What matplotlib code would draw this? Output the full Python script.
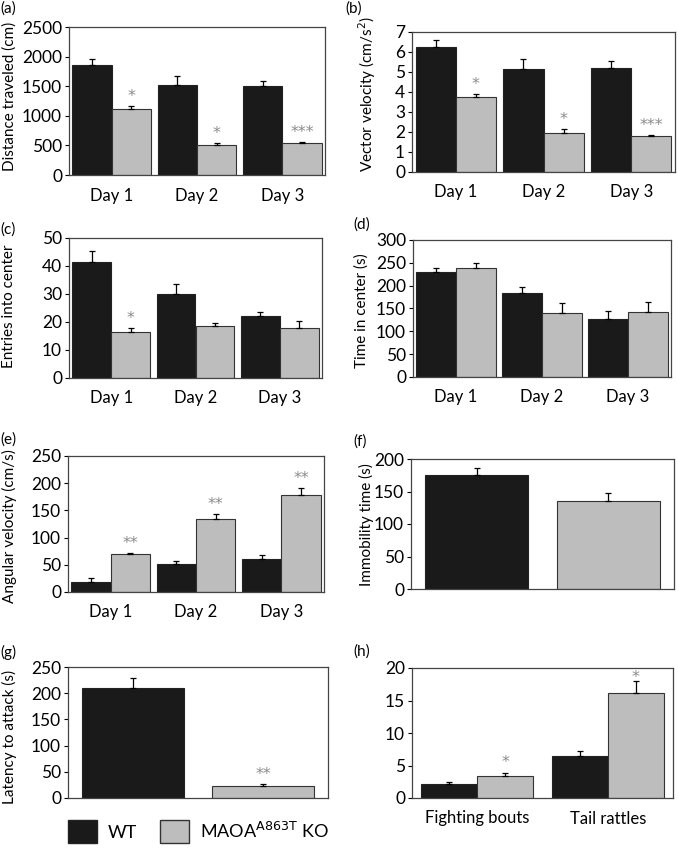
"""Eight-panel behaviour figure: WT vs MAOA A863T KO bar charts with SEM."""

import matplotlib

matplotlib.use("Agg")
import matplotlib.pyplot as plt  # noqa: E402
import numpy as np  # noqa: E402
from matplotlib.patches import Patch  # noqa: E402

W, H = 678, 851
plt.rcParams["font.family"] = ["Lato", "DejaVu Sans"]

DARK = "#1a1a1a"
GREY = "#bdbdbd"
STAR = "#8a8a8a"

# ---- data ----
days = ["Day 1", "Day 2", "Day 3"]

dist_wt = [1850, 1520, 1500]
dist_wt_err = [110, 150, 90]
dist_ko = [1120, 510, 540]
dist_ko_err = [50, 30, 20]
dist_stars = ["*", "*", "***"]

vel_wt = [6.25, 5.15, 5.2]
vel_wt_err = [0.35, 0.5, 0.33]
vel_ko = [3.75, 1.95, 1.78]
vel_ko_err = [0.15, 0.2, 0.07]
vel_stars = ["*", "*", "***"]

entries_wt = [41.3, 30.0, 22.0]
entries_wt_err = [4.2, 3.7, 1.7]
entries_ko = [16.3, 18.5, 18.0]
entries_ko_err = [1.7, 1.0, 2.3]
entries_stars = ["*", "", ""]

center_wt = [230, 183, 127]
center_wt_err = [8, 15, 18]
center_ko = [238, 141, 143]
center_ko_err = [11, 21, 21]
center_stars = ["", "", ""]

ang_wt = [19, 51, 60]
ang_wt_err = [6, 6, 8]
ang_ko = [69, 135, 178]
ang_ko_err = [3, 9, 13]
ang_stars = ["**", "**", "**"]

immob = [176, 136]
immob_err = [10, 12]
immob_stars = ["", ""]

latency = [209, 22]
latency_err = [20, 5]
latency_stars = ["", "**"]

aggr_cats = ["Fighting bouts", "Tail rattles"]
aggr_wt = [2.1, 6.5]
aggr_wt_err = [0.3, 0.7]
aggr_ko = [3.35, 16.1]
aggr_ko_err = [0.55, 1.9]
aggr_stars = ["*", "*"]


def box(l, t, r, b):
    return [l / W, 1 - b / H, (r - l) / W, (b - t) / H]


def style(ax, ylim, yticks):
    ax.set_ylim(*ylim)
    ax.set_yticks(yticks)
    ax.tick_params(axis="y", direction="out", length=3, width=0.8, labelsize=12.5, pad=2)
    ax.tick_params(axis="x", length=0, labelsize=12, pad=9)
    for s in ax.spines.values():
        s.set_color("#444444")
        s.set_linewidth(0.9)


def stars_on(ax, xs, tops, marks, lift=None):
    lift = lift or [3.5] * len(marks)
    for x, t, m, dy in zip(xs, tops, marks, lift):
        if m:
            ax.annotate(m, (x, t), xytext=(0, dy), textcoords="offset points",
                        ha="center", va="baseline", fontsize=11.5, color=STAR,
                        family="DejaVu Sans")


def grouped(ax, cats, wt, wt_err, ko, ko_err, marks, width=0.46, lift=None):
    x = np.arange(len(cats))
    ax.bar(x - width / 2, wt, width, color=DARK, edgecolor="#222222", linewidth=0.8, zorder=2)
    ax.bar(x + width / 2, ko, width, color=GREY, edgecolor="#333333", linewidth=0.8, zorder=2)
    for xs, v, e in ((x - width / 2, wt, wt_err), (x + width / 2, ko, ko_err)):
        ax.errorbar(xs, v, yerr=[np.zeros(len(v)), e], fmt="none", ecolor="black",
                    elinewidth=0.9, capsize=2.5, capthick=0.9, zorder=3)
    tops = np.array(ko) + np.array(ko_err)
    stars_on(ax, x + width / 2, tops, marks, lift)
    ax.set_xlim(-0.5, len(cats) - 0.5)
    ax.set_xticks(x)
    ax.set_xticklabels(cats)


def pair(ax, vals, errs, marks, width=0.78):
    x = np.arange(len(vals))
    ax.bar(x, vals, width, color=[DARK, GREY], edgecolor=["#222222", "#333333"],
           linewidth=0.8, zorder=2)
    ax.errorbar(x, vals, yerr=[np.zeros(len(vals)), errs], fmt="none", ecolor="black",
                elinewidth=0.9, capsize=2.5, capthick=0.9, zorder=3)
    stars_on(ax, x, np.array(vals) + np.array(errs), marks)
    ax.set_xlim(-0.5, len(vals) - 0.5)
    ax.set_xticks([])


fig = plt.figure(figsize=(W / 100, H / 100), dpi=100)

ax_a = fig.add_axes(box(69, 27, 325, 175))
grouped(ax_a, days, dist_wt, dist_wt_err, dist_ko, dist_ko_err, dist_stars)
style(ax_a, (0, 2500), range(0, 2501, 500))

ax_b = fig.add_axes(box(412, 32, 675, 172))
grouped(ax_b, days, vel_wt, vel_wt_err, vel_ko, vel_ko_err, vel_stars)
style(ax_b, (0, 7), range(0, 8))

ax_c = fig.add_axes(box(69, 238, 322, 378))
grouped(ax_c, days, entries_wt, entries_wt_err, entries_ko, entries_ko_err, entries_stars)
style(ax_c, (0, 50), range(0, 51, 10))

ax_d = fig.add_axes(box(413, 240, 671, 377))
grouped(ax_d, days, center_wt, center_wt_err, center_ko, center_ko_err, center_stars)
style(ax_d, (0, 300), range(0, 301, 50))

ax_e = fig.add_axes(box(68, 456, 324, 592))
grouped(ax_e, days, ang_wt, ang_wt_err, ang_ko, ang_ko_err, ang_stars)
style(ax_e, (0, 250), range(0, 251, 50))

ax_f = fig.add_axes(box(411, 459, 674, 589))
pair(ax_f, immob, immob_err, immob_stars)
style(ax_f, (0, 200), range(0, 201, 50))

ax_g = fig.add_axes(box(68, 667, 328, 798))
pair(ax_g, latency, latency_err, latency_stars)
style(ax_g, (0, 250), range(0, 251, 50))

ax_h = fig.add_axes(box(412, 668, 673, 798))
grouped(ax_h, aggr_cats, aggr_wt, aggr_wt_err, aggr_ko, aggr_ko_err, aggr_stars,
        width=0.43, lift=[4, -0.5])
style(ax_h, (0, 20), range(0, 21, 5))

# y labels placed by pixel centre
ylabels = [
    (10, 96, "Distance traveled (cm)"),
    (367, 94, "Vector velocity (cm/s$^{2}$)"),
    (9, 306, "Entries into center"),
    (362, 311, "Time in center (s)"),
    (9, 526, "Angular velocity (cm/s)"),
    (366, 525, "Immobility time (s)"),
    (9, 737, "Latency to attack (s)"),
]
for x, y, t in ylabels:
    fig.text(x / W, 1 - y / H, t, rotation=90, ha="center", va="center", fontsize=11)

# panel letters
letters = [("(a)", 0, 9), ("(b)", 345, 9), ("(c)", 0, 230), ("(d)", 353, 225),
           ("(e)", 0, 440), ("(f)", 353, 442), ("(g)", 0, 652), ("(h)", 353, 652)]
for t, x, y in letters:
    fig.text(x / W, 1 - y / H, t, ha="left", va="center", fontsize=11)

handles = [Patch(facecolor=DARK, edgecolor="#222222"),
           Patch(facecolor=GREY, edgecolor="#333333")]
fig.legend(handles, ["WT", "MAOA$^{\\mathrm{A863T}}$ KO"], ncol=2, frameon=False,
           loc="upper left", bbox_to_anchor=(68 / W, 1 - 820 / H), fontsize=13,
           handlelength=1.6, handleheight=1.6, handletextpad=0.6, columnspacing=1.3,
           borderpad=0, borderaxespad=0)

fig.savefig("out.png", dpi=100, facecolor="white")
